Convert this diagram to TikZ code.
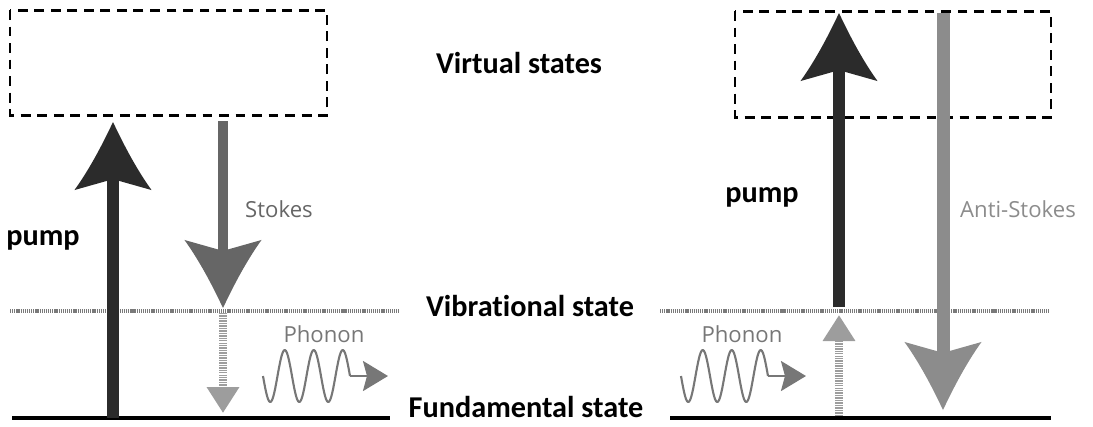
\documentclass[tikz,border=0pt]{standalone}
\usepackage{fontspec}
\setmainfont{Carlito}[Ligatures=NoCommon]
\newfontfamily\graylabel{Open Sans}
\usetikzlibrary{arrows.meta}

\definecolor{pumpcol}{HTML}{2B2B2B}
\definecolor{stokescol}{HTML}{666666}
\definecolor{ascol}{HTML}{8C8C8C}
\definecolor{phononcol}{HTML}{777777}
\definecolor{vibcol}{HTML}{7A7A7A}

% arrow head with slightly hollow flanks and a small notch
\pgfdeclarearrow{
	name = Flare,
	parameters = {\the\pgfarrowlength,\the\pgfarrowwidth},
	setup code = {
		\pgfarrowssettipend{0pt}
		\pgfarrowssetbackend{-\pgfarrowlength}
		\pgfarrowssetlineend{-0.84\pgfarrowlength}
		\pgfarrowssavethe\pgfarrowlength
		\pgfarrowssavethe\pgfarrowwidth
	},
	drawing code = {
		\pgfpathmoveto{\pgfpointorigin}
		\pgfpathcurveto{\pgfpoint{-0.36\pgfarrowlength}{0.15\pgfarrowwidth}}
			{\pgfpoint{-0.7\pgfarrowlength}{0.31\pgfarrowwidth}}
			{\pgfpoint{-\pgfarrowlength}{0.5\pgfarrowwidth}}
		\pgfpathlineto{\pgfpoint{-0.84\pgfarrowlength}{0pt}}
		\pgfpathlineto{\pgfpoint{-\pgfarrowlength}{-0.5\pgfarrowwidth}}
		\pgfpathcurveto{\pgfpoint{-0.7\pgfarrowlength}{-0.31\pgfarrowwidth}}
			{\pgfpoint{-0.36\pgfarrowlength}{-0.15\pgfarrowwidth}}
			{\pgfpointorigin}
		\pgfpathclose
		\pgfusepathqfill
	},
	defaults = {length=6mm, width=7mm}
}

\tikzset{
	level/.style={draw=black, line width=0.9pt},
	viblevel/.style={draw=vibcol, line width=1pt, dash pattern=on 0.35pt off 0.25pt},
	virtbox/.style={draw=black, line width=0.85pt, dash pattern=on 2.8pt off 1.9pt},
	photon/.style={line width=#1, -{Flare[length=0.68cm, width=0.77cm]}},
	dotshaft/.style={draw=ascol!85, line width=0.08cm, dash pattern=on 0.4pt off 0.3pt,
		-{Triangle[length=0.26cm, width=0.31cm]}},
	wave/.style={draw=phononcol, line width=0.6pt, line join=round},
	wavetip/.style={draw=phononcol, line width=0.6pt,
		-{Stealth[length=0.25cm, width=0.3cm, inset=0.04cm]}},
	statetxt/.style={font=\fontsize{8.6}{10}\selectfont\bfseries, anchor=base, inner sep=0pt},
	graytxt/.style={font=\fontsize{6.3}{8}\graylabel, text=#1, anchor=base, inner sep=0pt},
}

\begin{document}
\begin{tikzpicture}[x=0.01cm, y=-0.01cm]
	\useasboundingbox (0,0) rectangle (1093,426);

	% levels
	\draw[virtbox] (10,10) rectangle (327,115);
	\draw[virtbox] (735,11) rectangle (1051,117);
	\draw[viblevel] (10,311) -- (400,311);
	\draw[viblevel] (660,311) -- (1050,311);
	\draw[level] (12,418) -- (390,418);
	\draw[level] (670,418) -- (1051,418);

	% arrow ends
	\coordinate (pL0) at (113,418); \coordinate (pL1) at (113,122);
	\coordinate (sL0) at (223,121); \coordinate (sL1) at (223,308);
	\coordinate (dL0) at (223,313); \coordinate (dL1) at (223,413);
	\coordinate (pR0) at (839,307); \coordinate (pR1) at (839,13);
	\coordinate (aR0) at (943,13);  \coordinate (aR1) at (943,410);
	\coordinate (dR0) at (839,416); \coordinate (dR1) at (839,315);

	% Stokes side
	\draw[photon=0.12cm, pumpcol] (pL0) -- (pL1);
	\draw[photon=0.1cm, stokescol] (sL0) -- (sL1);
	\draw[dotshaft] (dL0) -- (dL1);

	% anti-Stokes side
	\draw[dotshaft] (dR0) -- (dR1);
	\draw[photon=0.12cm, pumpcol] (pR0) -- (pR1);
	\draw[photon=0.13cm, ascol] (aR0) -- (aR1);

	% phonons
	\foreach \wx/\wn in {263/phL,681/phR} {
		\draw[wave] plot[domain=0:87, samples=88] ({\wx+\x},{376+26*sin(\x/29*360)});
		\coordinate (\wn) at (\wx+87,376);
		\draw[wavetip] (\wn) -- ++(38,0);
	}

	% labels
	\node[statetxt] (virt) at (519,73) {Virtual states};
	\node[statetxt] (vib) at (530,316) {Vibrational state};
	\node[statetxt] (fund) at (526,417) {Fundamental state};
	\node[statetxt] (pumpL) at (43,245) {pump};
	\node[statetxt] (pumpR) at (762,202) {pump};
	\node[graytxt=stokescol] (stokes) at (279,217) {Stokes};
	\node[graytxt=ascol] (antistokes) at (1018,217) {Anti-Stokes};
	\node[graytxt=phononcol] (phononL) at (324,342) {Phonon};
	\node[graytxt=phononcol] (phononR) at (742,342) {Phonon};
\end{tikzpicture}
\end{document}
